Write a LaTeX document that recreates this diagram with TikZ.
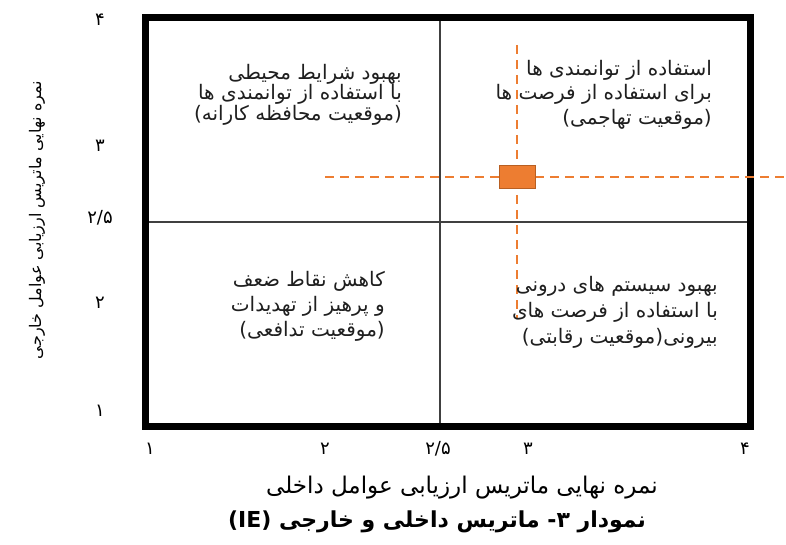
\documentclass[tikz,border=0pt]{standalone}
\usepackage{fontspec}
\newfontfamily\fa[Script=Arabic]{DejaVu Sans}
\TeXXeTstate=1
\definecolor{orng}{HTML}{ED7D31}
\definecolor{orngdk}{HTML}{B85F22}
\definecolor{txt}{HTML}{1F1F1F}
\tikzset{
  quad/.style={align=right, text=txt, inner sep=0pt, font={\fa\fontsize{20}{25}\selectfont}},
  ticklab/.style={inner sep=0pt, font={\fa\fontsize{18}{20}\selectfont}},
  midline/.style={draw=black!75, line width=1.4pt},
  odash/.style={draw=orng, line width=2pt, dash pattern=on 9pt off 6pt},
}
\begin{document}
\begin{tikzpicture}[x=1pt,y=-1pt]
\useasboundingbox (0,0) rectangle (786,545);
% frame
\coordinate (tl) at (145,18);
\coordinate (br) at (750,426);
\coordinate (vt) at (440,18);
\coordinate (vb) at (440,426);
\coordinate (hl) at (145,222);
\coordinate (hr) at (750,222);
\draw[midline] (vt) -- (vb);
\draw[midline] (hl) -- (hr);
\draw[line width=7pt] (tl) rectangle (br);
% dashed lines
\coordinate (dvt) at (517,45);
\coordinate (dvb) at (517,318);
\coordinate (dhl) at (325,177.5);
\coordinate (dhr) at (786,177.5);
\draw[odash] (dvt) -- (dvb);
\draw[odash] (dhl) -- (dhr);
\node[draw=orngdk, fill=orng, line width=1pt, minimum width=36pt, minimum height=23pt, inner sep=0pt] (pt) at (517,177.5) {};
% quadrant texts
\node[quad, anchor=north east, font={\fa\fontsize{20}{20.5}\selectfont}] (qtl) at (402,64) {\beginR بهبود شرایط محیطی\endR\\\beginR با استفاده از توانمندی ها\endR\\\beginR (موقعیت محافظه کارانه)\endR};
\node[quad, anchor=north east, font={\fa\fontsize{20}{24.5}\selectfont}] (qtr) at (712,60) {\beginR استفاده از توانمندی ها\endR\\\beginR برای استفاده از فرصت ها\endR\\\beginR (موقعیت تهاجمی)\endR};
\node[quad, anchor=north east] (qbl) at (385,271) {\beginR کاهش نقاط ضعف\endR\\\beginR و پرهیز از تهدیدات\endR\\\beginR (موقعیت تدافعی)\endR};
\node[quad, anchor=north east, font={\fa\fontsize{20}{26}\selectfont}] (qbr) at (718,276) {\beginR بهبود سیستم های درونی\endR\\\beginR با استفاده از فرصت های\endR\\\beginR بیرونی(موقعیت رقابتی)\endR};
% y tick labels
\node[ticklab] (y4) at (100,20) {۴};
\node[ticklab] (y3) at (100,146) {۳};
\node[ticklab] (y25) at (100,218) {۲/۵};
\node[ticklab] (y2) at (100,303) {۲};
\node[ticklab] (y1) at (100,411) {۱};
% x tick labels
\node[ticklab] (x1) at (150,449) {۱};
\node[ticklab] (x2) at (325,449) {۲};
\node[ticklab] (x25) at (438,449) {۲/۵};
\node[ticklab] (x3) at (528,449) {۳};
\node[ticklab] (x4) at (745,449) {۴};
% axis titles
\node[rotate=90, inner sep=0pt, font={\fa\fontsize{16}{18}\selectfont}] (ytitle) at (37,220) {\beginR نمره نهایی ماتریس ارزیابی عوامل خارجی\endR};
\node[inner sep=0pt, font={\fa\fontsize{23}{25}\selectfont}] (xtitle) at (462,488) {\beginR نمره نهایی ماتریس ارزیابی عوامل داخلی\endR};
\node[inner sep=0pt, font={\fa\bfseries\fontsize{22}{24}\selectfont}] (caption) at (437,522) {\beginR نمودار ۳- ماتریس داخلی و خارجی \beginL(IE)\endL\endR};
\end{tikzpicture}
\end{document}
